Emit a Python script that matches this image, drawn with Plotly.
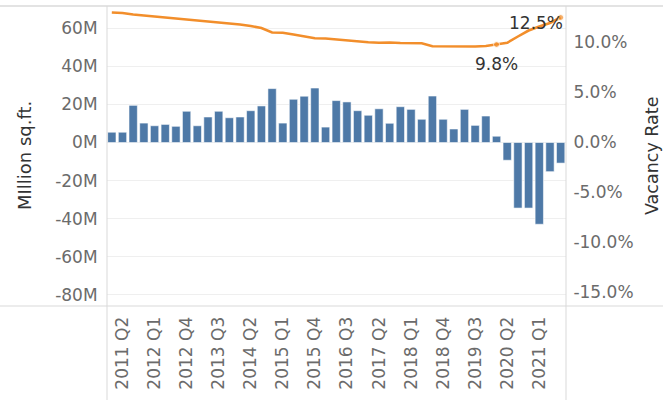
import plotly.graph_objects as go

# ---------------- data ----------------
quarters = [
    "2011 Q1", "2011 Q2", "2011 Q3", "2011 Q4",
    "2012 Q1", "2012 Q2", "2012 Q3", "2012 Q4",
    "2013 Q1", "2013 Q2", "2013 Q3", "2013 Q4",
    "2014 Q1", "2014 Q2", "2014 Q3", "2014 Q4",
    "2015 Q1", "2015 Q2", "2015 Q3", "2015 Q4",
    "2016 Q1", "2016 Q2", "2016 Q3", "2016 Q4",
    "2017 Q1", "2017 Q2", "2017 Q3", "2017 Q4",
    "2018 Q1", "2018 Q2", "2018 Q3", "2018 Q4",
    "2019 Q1", "2019 Q2", "2019 Q3", "2019 Q4",
    "2020 Q1", "2020 Q2", "2020 Q3", "2020 Q4",
    "2021 Q1", "2021 Q2", "2021 Q3",
]

# net absorption, million sq.ft.
absorption = [
    5.4, 5.4, 19.5, 10.2, 8.8, 9.5, 8.5, 16.4, 8.8, 13.4,
    16.4, 13.0, 13.4, 16.7, 19.2, 28.3, 10.2, 22.7, 24.3, 28.6,
    8.1, 22.0, 21.3, 16.7, 14.3, 17.7, 10.1, 18.8, 17.4, 12.2,
    24.4, 12.2, 7.1, 17.4, 9.0, 13.9, 3.3, -9.3, -34.4, -34.4,
    -42.9, -15.3, -10.8,
]

# vacancy rate, %
vacancy = [
    13.0, 12.95, 12.8, 12.7, 12.62, 12.55, 12.45, 12.35, 12.25, 12.15,
    12.02, 11.9, 11.8, 11.65, 11.45, 11.0, 10.98, 10.8, 10.62, 10.42,
    10.4, 10.3, 10.2, 10.07, 10.03, 9.97, 10.0, 9.95, 9.93, 9.93,
    9.62, 9.6, 9.62, 9.58, 9.6, 9.65, 9.8, 9.97, 10.6, 11.2,
    11.6, 11.95, 12.5,
]

x_tick_labels = [
    "2011 Q2", "2012 Q1", "2012 Q4", "2013 Q3", "2014 Q2", "2015 Q1", "2015 Q4",
    "2016 Q3", "2017 Q2", "2018 Q1", "2018 Q4", "2019 Q3", "2020 Q2", "2021 Q1",
]

left_ticks = [60, 40, 20, 0, -20, -40, -60, -80]
left_tick_text = ["60M", "40M", "20M", "0M", "-20M", "-40M", "-60M", "-80M"]
right_ticks = [10, 5, 0, -5, -10, -15]
right_tick_text = ["10.0%", "5.0%", "0.0%", "-5.0%", "-10.0%", "-15.0%"]

labelled_points = ["2020 Q1", "2021 Q3"]

# ---------------- styling ----------------
FONT = "DejaVu Sans"
TICK_COLOR = "#6b6b6b"
TITLE_COLOR = "#333333"
BAR_COLOR = "#4e79a7"
LINE_COLOR = "#f28e2b"
BORDER = "#d9d9d9"

W, H = 663, 406
L, R, T, B = 107, 97, 6, 100

fig = go.Figure()

fig.add_trace(go.Bar(
    x=quarters, y=absorption, yaxis="y",
    marker=dict(color=BAR_COLOR, line=dict(color="rgba(255,255,255,0.55)", width=1)),
    width=0.78, showlegend=False, hoverinfo="skip",
))

marker_sizes = [6 if q in labelled_points else 0 for q in quarters]
fig.add_trace(go.Scatter(
    x=quarters, y=vacancy, yaxis="y2", mode="lines+markers",
    line=dict(color=LINE_COLOR, width=2.6),
    marker=dict(color=LINE_COLOR, size=marker_sizes),
    showlegend=False, hoverinfo="skip",
))

# point labels
i_low = quarters.index("2020 Q1")
i_end = quarters.index("2021 Q3")
annotations = [
    dict(x=quarters[i_low], y=vacancy[i_low], xref="x", yref="y2",
         text=f"{vacancy[i_low]:.1f}%", showarrow=False,
         xanchor="center", yanchor="top", yshift=-7,
         font=dict(family=FONT, size=17, color="#333333")),
    dict(x=quarters[i_end], y=vacancy[i_end], xref="x", yref="y2",
         text=f"{vacancy[i_end]:.1f}%", showarrow=False,
         xanchor="right", yanchor="middle", xshift=4, yshift=-5,
         font=dict(family=FONT, size=17, color="#333333")),
    dict(x=(24 - L) / (W - L - R), y=0.5, xref="paper", yref="paper",
         text="MIllion sq.ft.", textangle=-90, showarrow=False,
         xanchor="center", yanchor="middle",
         font=dict(family=FONT, size=18, color=TITLE_COLOR)),
    dict(x=(652 - L) / (W - L - R), y=0.5, xref="paper", yref="paper",
         text="Vacancy Rate", textangle=-90, showarrow=False,
         xanchor="center", yanchor="middle",
         font=dict(family=FONT, size=17.5, color=TITLE_COLOR)),
]

pw = W - L - R
ph = H - T - B
def px_x(p):
    return (p - L) / pw
def px_y(p):
    return 1 - (p - T) / ph

shapes = [
    # top and bottom border lines, full width
    dict(type="line", xref="paper", yref="paper", x0=px_x(0), x1=px_x(W), y0=1, y1=1,
         line=dict(color="#e3e3e3", width=2)),
    dict(type="line", xref="paper", yref="paper", x0=px_x(0), x1=px_x(W), y0=0, y1=0,
         line=dict(color=BORDER, width=1)),
    # vertical axis lines extending into label area
    dict(type="line", xref="paper", yref="paper", x0=0, x1=0, y0=1, y1=px_y(400),
         line=dict(color=BORDER, width=1)),
    dict(type="line", xref="paper", yref="paper", x0=1, x1=1, y0=1, y1=px_y(400),
         line=dict(color=BORDER, width=1)),
]

fig.update_layout(
    width=W, height=H,
    margin=dict(l=L, r=R, t=T, b=B, autoexpand=False),
    paper_bgcolor="white", plot_bgcolor="white",
    font=dict(family=FONT, size=17, color=TICK_COLOR),
    hovermode=False,
    xaxis=dict(
        type="category", categoryorder="array", categoryarray=quarters,
        range=[-0.45, 42.5],
        tickmode="array", tickvals=x_tick_labels, ticktext=x_tick_labels,
        tickangle=-90, ticks="outside", ticklen=3, tickcolor="rgba(0,0,0,0)",
        showgrid=False, showline=False, zeroline=False,
        tickfont=dict(family=FONT, size=17, color=TICK_COLOR),
        automargin=False,
    ),
    yaxis=dict(
        range=[-85.8, 71.65],
        tickmode="array", tickvals=left_ticks, ticktext=left_tick_text,
        ticks="outside", ticklen=5, tickcolor="rgba(0,0,0,0)",
        showgrid=True, gridcolor="#efefef", gridwidth=1,
        zeroline=False, showline=False,
        tickfont=dict(family=FONT, size=17, color=TICK_COLOR),
        automargin=False,
    ),
    yaxis2=dict(
        range=[-16.35, 13.65], overlaying="y", side="right",
        tickmode="array", tickvals=right_ticks, ticktext=right_tick_text,
        ticks="outside", ticklen=3, tickcolor="rgba(0,0,0,0)",
        showgrid=False, zeroline=False, showline=False,
        tickfont=dict(family=FONT, size=17, color=TICK_COLOR),
        automargin=False,
    ),
    annotations=annotations,
    shapes=shapes,
)

fig.write_html(
    "out.html",
    config={"displayModeBar": False, "staticPlot": True},
    post_script="document.body.style.margin='0';document.body.style.padding='0';",
)
